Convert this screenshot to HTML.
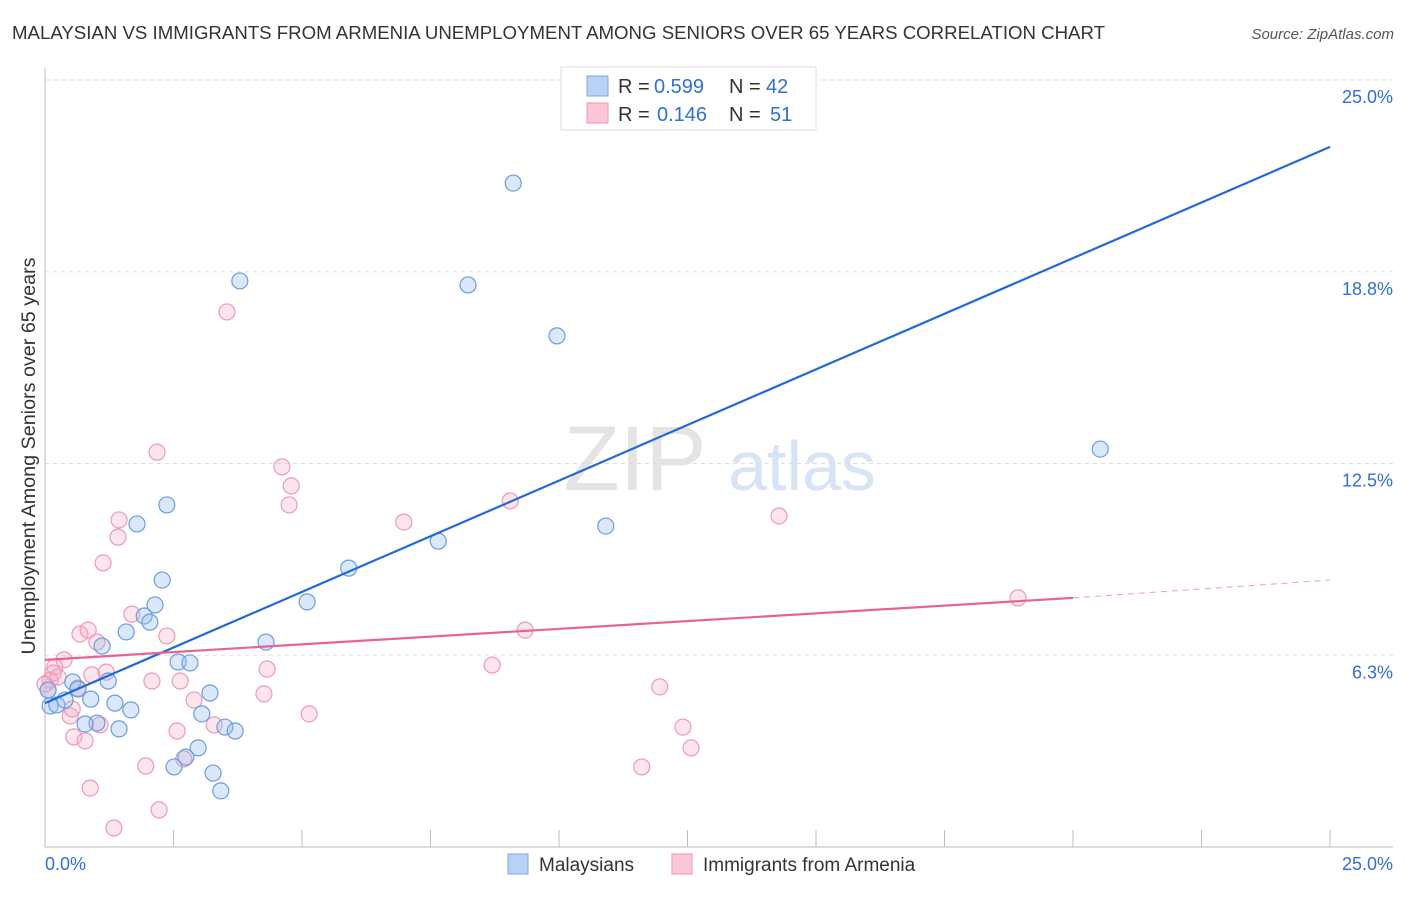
<!DOCTYPE html>
<html><head><meta charset="utf-8">
<style>
body{margin:0;background:#fff;font-family:"Liberation Sans",sans-serif;}
svg text{font-family:"Liberation Sans",sans-serif;}
</style></head>
<body>
<svg id="c" width="1406" height="892" xmlns="http://www.w3.org/2000/svg">
<text x="12" y="39" font-size="18.5" fill="#333" textLength="1093" lengthAdjust="spacingAndGlyphs">MALAYSIAN VS IMMIGRANTS FROM ARMENIA UNEMPLOYMENT AMONG SENIORS OVER 65 YEARS CORRELATION CHART</text>
<text x="1394" y="39" font-size="15" fill="#555" font-style="italic" text-anchor="end">Source: ZipAtlas.com</text>
<text x="35" y="456" font-size="19" fill="#333" text-anchor="middle" textLength="397" lengthAdjust="spacingAndGlyphs" transform="rotate(-90 35 456)">Unemployment Among Seniors over 65 years</text>
<g>
<text x="635" y="490" font-size="92" fill="#e4e4e4" text-anchor="middle" font-family="Liberation Serif,serif">ZIP</text>
<text x="802" y="490" font-size="70" fill="#d6e4f5" text-anchor="middle">atlas</text>
</g>
<g id="grid"></g>
<g id="axes"></g>
<g id="pts"></g>
<g id="trend"></g>
<g>
<rect x="561" y="67" width="255" height="63" fill="#fff" stroke="#ddd"/>
<rect x="587" y="76" width="21" height="20" fill="#b9d2f4" stroke="#7aa7e3"/>
<rect x="587" y="103" width="21" height="20" fill="#fbc6d6" stroke="#ef95b2"/>
<g font-size="20" fill="#333">
<text x="618" y="93">R =</text><text x="654" y="93" fill="#2f6fd6">0.599</text>
<text x="729" y="93">N =</text><text x="766" y="93" fill="#2f6fd6">42</text>
<text x="618" y="121">R =</text><text x="657" y="121" fill="#2f6fd6">0.146</text>
<text x="729" y="121">N =</text><text x="770" y="121" fill="#2f6fd6">51</text>
</g>
</g>
<g>
<rect x="508" y="854" width="20" height="20" fill="#b9d2f4" stroke="#7aa7e3"/>
<text x="539" y="871" font-size="19" fill="#333">Malaysians</text>
<rect x="672" y="854" width="20" height="20" fill="#fbc6d6" stroke="#ef95b2"/>
<text x="703" y="871" font-size="19" fill="#333">Immigrants from Armenia</text>
</g>
</svg>
<script>
const yTicks=[6.25,12.5,18.75,25];
const yTickLabels=["6.3%","12.5%","18.8%","25.0%"];
const xTickCount=10;
const blueX=[9.11,3.79,8.23,9.96,20.53,2.37,1.79,10.91,7.65,5.91,2.28,2.14,1.93,2.04,5.10,1.58,1.11,4.30,2.59,2.82,1.23,0.54,0.64,0.10,0.23,0.39,0.89,1.36,1.67,3.21,3.05,1.01,0.78,1.44,3.50,3.70,2.98,2.74,2.51,3.27,3.42,0.06];
const blueY=[21.64,18.45,18.32,16.66,12.97,11.15,10.53,10.46,9.97,9.09,8.70,7.89,7.53,7.33,7.99,7.01,6.55,6.68,6.03,6.00,5.41,5.38,5.15,4.60,4.63,4.79,4.82,4.69,4.47,5.02,4.34,4.04,4.01,3.85,3.91,3.78,3.23,2.93,2.61,2.41,1.83,5.12];
const pinkX=[3.54,2.18,4.61,4.79,4.75,9.05,6.98,14.28,1.44,1.42,1.13,1.69,2.37,0.68,0.84,1.01,9.34,18.93,0.37,0.19,0.10,0.25,0.06,0.91,1.19,2.08,2.63,4.32,8.70,4.26,2.90,11.96,0.64,0.49,0.53,1.07,3.29,2.57,5.14,12.41,0.56,0.78,12.57,2.70,1.96,11.61,0.88,2.22,1.34,0.0,0.16];
const pinkY=[17.44,12.87,12.39,11.77,11.15,11.28,10.59,10.79,10.66,10.10,9.26,7.59,6.88,6.94,7.07,6.68,7.07,8.12,6.10,5.87,5.44,5.54,5.12,5.61,5.70,5.41,5.41,5.80,5.93,4.99,4.79,5.22,5.18,4.27,4.50,3.98,3.98,3.78,4.34,3.91,3.59,3.46,3.23,2.87,2.64,2.61,1.92,1.21,0.62,5.31,5.67];
const blueTrend=[[0,4.69],[25,22.82]];
const pinkTrend=[[0,6.10],[20,8.12]];
const pinkTrendExt=[[20,8.12],[25,8.70]];

const NS="http://www.w3.org/2000/svg";
const X0=45,X1=1330,Y0=847,Y1=80;
const sx=v=>X0+(v/25)*(X1-X0);
const sy=v=>Y0-(v/25)*(Y0-Y1);
function mk(tag,attrs,parent){const e=document.createElementNS(NS,tag);for(const k in attrs)e.setAttribute(k,attrs[k]);parent.appendChild(e);return e;}
const grid=document.getElementById('grid'),axes=document.getElementById('axes'),pts=document.getElementById('pts'),trend=document.getElementById('trend');
yTicks.forEach((t,i)=>{
 const l=mk('line',{x1:X0,x2:1393,y1:sy(t),y2:sy(t),stroke:'#ddd','stroke-dasharray':'4,4'},grid);
 
 
 const tx=mk('text',{x:1393,y:sy(t)+23,'font-size':18,fill:'#2f6fd6','text-anchor':'end'},grid);
 tx.textContent=yTickLabels[i];
 
 
});
const ya=mk('line',{x1:X0,x2:X0,y1:68,y2:Y0,stroke:'#bbb'},axes);


const xa=mk('line',{x1:X0,x2:1393,y1:Y0,y2:Y0,stroke:'#bbb'},axes);


for(let i=1;i<=xTickCount;i++){
 const t=mk('line',{x1:sx(i*2.5),x2:sx(i*2.5),y1:830,y2:Y0,stroke:'#bbb'},axes);
 
 
}
const xl0=mk('text',{x:45,y:870,'font-size':18,fill:'#2f6fd6'},axes);xl0.textContent='0.0%';


const xl1=mk('text',{x:1393,y:870,'font-size':18,fill:'#2f6fd6','text-anchor':'end'},axes);xl1.textContent='25.0%';



pinkX.forEach((x,i)=>{
 const c=mk('circle',{cx:sx(x),cy:sy(pinkY[i]),r:8,fill:'rgba(246,168,194,0.3)',stroke:'#ec9ab5','stroke-width':1.2},pts);
 
 
});
blueX.forEach((x,i)=>{
 const c=mk('circle',{cx:sx(x),cy:sy(blueY[i]),r:8,fill:'rgba(150,190,240,0.35)',stroke:'#6a9de0','stroke-width':1.2},pts);
 
 
});
const bt=mk('line',{x1:sx(blueTrend[0][0]),y1:sy(blueTrend[0][1]),x2:sx(blueTrend[1][0]),y2:sy(blueTrend[1][1]),stroke:'#1f6ad8','stroke-width':2.2},trend);


const pt=mk('line',{x1:sx(pinkTrend[0][0]),y1:sy(pinkTrend[0][1]),x2:sx(pinkTrend[1][0]),y2:sy(pinkTrend[1][1]),stroke:'#e8648f','stroke-width':2.2},trend);


const pe=mk('line',{x1:sx(pinkTrendExt[0][0]),y1:sy(pinkTrendExt[0][1]),x2:sx(pinkTrendExt[1][0]),y2:sy(pinkTrendExt[1][1]),stroke:'#eba0b8','stroke-width':1,'stroke-dasharray':'6,5'},trend);


</script>
</body></html>
